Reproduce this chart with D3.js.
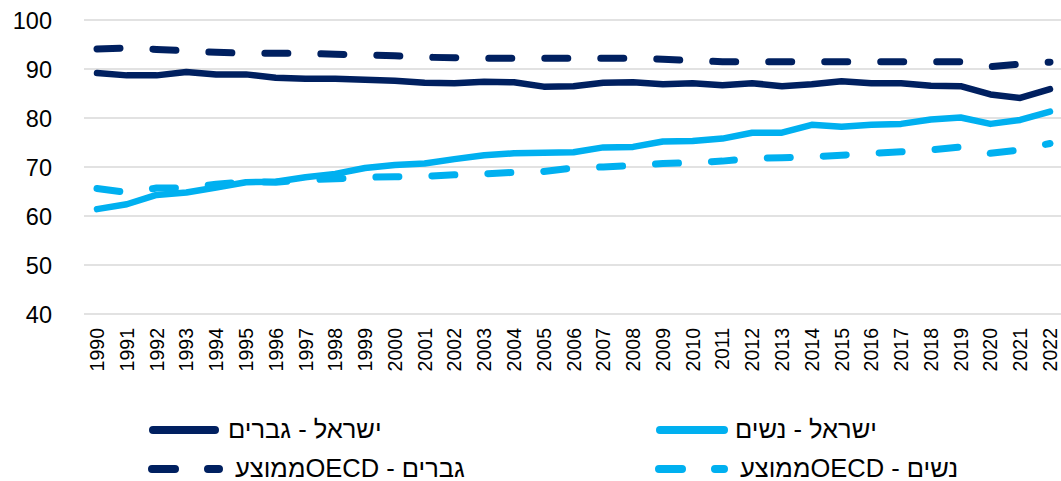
<!DOCTYPE html>
<html>
<head>
<meta charset="utf-8">
<script src="https://cdn.jsdelivr.net/npm/d3@7"></script>
<style>
  html, body { margin: 0; padding: 0; background: #fff; }
  svg { display: block; }
</style>
</head>
<body>
<svg id="chart" width="1061" height="481"></svg>
<script>
const years = d3.range(1990, 2023).map(String);
const yTicks = [40, 50, 60, 70, 80, 90, 100];

const israelMen = [89.2, 88.7, 88.7, 89.4, 88.9, 88.9, 88.2, 88.0, 88.0, 87.8, 87.6, 87.2, 87.1, 87.4, 87.3, 86.4, 86.5, 87.2, 87.3, 86.9, 87.1, 86.7, 87.1, 86.5, 86.9, 87.5, 87.1, 87.1, 86.6, 86.5, 84.8, 84.1, 85.9];
const israelWomen = [61.4, 62.4, 64.3, 64.8, 65.8, 66.9, 67.0, 67.9, 68.6, 69.8, 70.4, 70.7, 71.6, 72.4, 72.8, 72.9, 73.0, 74.0, 74.1, 75.2, 75.3, 75.8, 77.0, 77.0, 78.6, 78.2, 78.6, 78.8, 79.7, 80.1, 78.8, 79.6, 81.3];
const oecdMen = [94.1, 94.3, 94.0, 93.7, 93.4, 93.2, 93.2, 93.2, 93.0, 92.9, 92.7, 92.4, 92.3, 92.2, 92.2, 92.2, 92.2, 92.2, 92.2, 92.0, 91.7, 91.5, 91.5, 91.5, 91.5, 91.5, 91.5, 91.5, 91.5, 91.5, 90.5, 91.0, 91.4];
const oecdWomen = [65.6, 64.8, 65.7, 65.7, 66.5, 67.0, 66.9, 67.4, 67.6, 67.9, 68.0, 68.1, 68.4, 68.6, 68.9, 69.1, 69.8, 70.0, 70.3, 70.7, 70.9, 71.2, 71.8, 71.9, 72.1, 72.4, 72.8, 73.1, 73.5, 74.1, 72.8, 73.5, 74.8];

const seriesNames = ["ישראל - גברים", "ישראל - נשים", "ממוצעOECD - גברים", "ממוצעOECD - נשים"];

const NAVY = "#002060", LIGHT = "#00B0F0";
const series = [
  { name: seriesNames[0], values: israelMen, color: NAVY, dashed: false },
  { name: seriesNames[1], values: israelWomen, color: LIGHT, dashed: false },
  { name: seriesNames[2], values: oecdMen, color: NAVY, dashed: true },
  { name: seriesNames[3], values: oecdWomen, color: LIGHT, dashed: true }
];

const svg = d3.select("#chart");
const plot = { left: 84, right: 1061, top: 20, bottom: 314 };

const x = d3.scalePoint().domain(years).range([97, 1050]);
const y = d3.scaleLinear().domain([40, 100]).range([plot.bottom, plot.top]);

// gridlines
svg.append("g").selectAll("line").data(yTicks).join("line")
  .attr("x1", plot.left).attr("x2", plot.right)
  .attr("y1", d => y(d)).attr("y2", d => y(d))
  .attr("stroke", "#d9d9d9").attr("stroke-width", 1.5);

// y axis labels
const yAxis = d3.axisLeft(y).tickValues(yTicks).tickSize(0).tickPadding(0);
const gy = svg.append("g").attr("transform", "translate(52,0)").call(yAxis);
gy.select(".domain").remove();
gy.selectAll("text")
  .attr("font-family", "'Liberation Sans', Arial, sans-serif")
  .attr("font-size", 23.5).attr("fill", "#000").attr("dy", "0.35em");

// x axis labels
const gx = svg.append("g");
gx.selectAll("text").data(years).join("text")
  .attr("transform", d => `translate(${x(d)},328) rotate(-90)`)
  .attr("text-anchor", "end")
  .attr("dy", "0.36em")
  .attr("font-family", "'Liberation Sans', Arial, sans-serif")
  .attr("font-size", 19.5).attr("fill", "#000")
  .text(d => d);

// lines
const line = d3.line().x((d, i) => x(years[i])).y(d => y(d));
const drawOrder = [series[2], series[3], series[0], series[1]];
svg.append("g").selectAll("path").data(drawOrder).join("path")
  .attr("d", d => line(d.values))
  .attr("fill", "none")
  .attr("stroke", d => d.color)
  .attr("stroke-width", d => d.dashed ? 7 : 6.5)
  .attr("stroke-linecap", "round")
  .attr("stroke-linejoin", "round")
  .attr("stroke-dasharray", d => d.dashed ? "23,33" : null);

// legend
const legendItems = [
  { s: series[0], x1: 153, x2: 215, ly: 430, tx: 228 },
  { s: series[1], x1: 660, x2: 724, ly: 430, tx: 735 },
  { s: series[2], x1: 152, x2: 219, ly: 469, tx: 235 },
  { s: series[3], x1: 659, x2: 724, ly: 469, tx: 740 }
];
const lg = svg.append("g");
legendItems.forEach(it => {
  lg.append("line")
    .attr("x1", it.x1).attr("x2", it.x2).attr("y1", it.ly).attr("y2", it.ly)
    .attr("stroke", it.s.color).attr("stroke-width", 8)
    .attr("stroke-linecap", "round")
    .attr("stroke-dasharray", it.s.dashed ? "23,33" : null);
  lg.append("text")
    .attr("x", it.tx).attr("y", it.ly + 8)
    .attr("direction", "ltr").attr("text-anchor", "start")
    .attr("font-family", "'Liberation Sans', Arial, sans-serif")
    .attr("font-size", 25.5).attr("fill", "#000")
    .text(it.s.name);
});
</script>
</body>
</html>
